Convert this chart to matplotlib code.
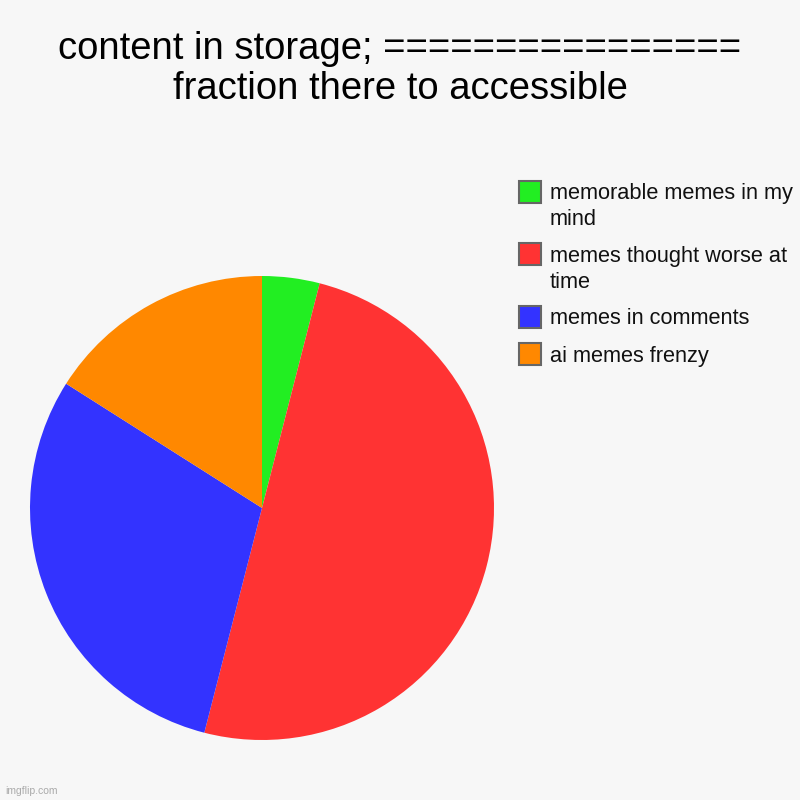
import matplotlib
matplotlib.use("Agg")
import matplotlib.pyplot as plt
from matplotlib.patches import Rectangle

plt.rcParams['font.family'] = ['Liberation Sans', 'DejaVu Sans']

# datos
labels = ["memorable memes in my\nmind", "memes thought worse at\ntime",
          "memes in comments", "ai memes frenzy"]
values = [4, 50, 30, 16]
colors = ["#22ee22", "#ff3333", "#3333ff", "#ff8800"]
title = "content in storage; ================\nfraction there to accessible"

bg = "#f7f7f7"
W = H = 800
fig = plt.figure(figsize=(8, 8), dpi=100, facecolor=bg)

# pie centrado en (262, 508) px, radio 232 px
ax = fig.add_axes([0.0375, 0.075, 0.58, 0.58])
ax.set_facecolor(bg)
ax.pie(values, colors=colors, startangle=90, counterclock=False,
       wedgeprops=dict(linewidth=0))
ax.set_xlim(-1, 1)
ax.set_ylim(-1, 1)
ax.set_aspect('equal')

fig.text(0.5, 1 - 69 / H, title, ha='center', va='center', fontsize=27.5,
         linespacing=1.12)

# leyenda a mano (cuadro alineado con la primera línea de cada etiqueta)
y = 192
for lab, col in zip(labels, colors):
    fig.patches.append(Rectangle((519 / W, 1 - (y + 11) / H), 22 / W, 22 / H,
                                 transform=fig.transFigure, facecolor=col,
                                 edgecolor='#666666', linewidth=1.5))
    for line in lab.split("\n"):
        fig.text(550 / W, 1 - (y + 2) / H, line, ha='left', va='center',
                 fontsize=15.7, color='#111111')
        y += 25.5
    y += 37 - 25.5

fig.text(0.007, 0.008, "imgflip.com", fontsize=7.5, color='#aaaaaa')

fig.savefig("out.png", dpi=100, facecolor=bg)
